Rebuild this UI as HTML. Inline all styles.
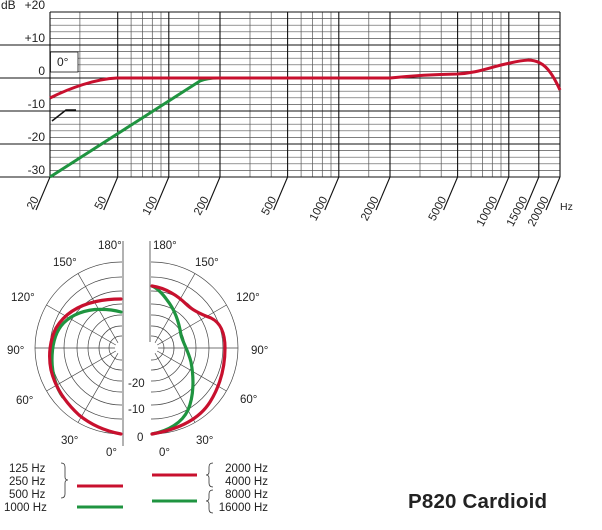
<!DOCTYPE html>
<html><head><meta charset="utf-8"><style>
html,body{margin:0;padding:0;background:#fff}
svg{display:block}
text{font-family:"Liberation Sans",Arial,sans-serif;fill:#222}
</style></head><body>
<svg width="602" height="530" viewBox="0 0 602 530" xmlns="http://www.w3.org/2000/svg">
<defs>
<clipPath id="cl"><rect x="0" y="230" width="122" height="230"/></clipPath>
<clipPath id="cr"><rect x="151" y="230" width="140" height="230"/></clipPath>
</defs>
<g stroke="#555" stroke-width="0.7">
<line x1="50" x2="560" y1="18.6" y2="18.6"/><line x1="50" x2="560" y1="25.2" y2="25.2"/><line x1="50" x2="560" y1="31.8" y2="31.8"/><line x1="50" x2="560" y1="38.4" y2="38.4"/>
<line x1="50" x2="560" y1="51.6" y2="51.6"/><line x1="78" x2="560" y1="58.2" y2="58.2"/><line x1="78" x2="560" y1="64.8" y2="64.8"/><line x1="50" x2="560" y1="71.4" y2="71.4"/>
<line x1="50" x2="560" y1="84.6" y2="84.6"/><line x1="50" x2="560" y1="91.2" y2="91.2"/><line x1="50" x2="560" y1="97.8" y2="97.8"/><line x1="50" x2="560" y1="104.4" y2="104.4"/>
<line x1="50" x2="560" y1="117.6" y2="117.6"/><line x1="50" x2="560" y1="124.2" y2="124.2"/><line x1="50" x2="560" y1="130.8" y2="130.8"/><line x1="50" x2="560" y1="137.4" y2="137.4"/>
<line x1="50" x2="560" y1="150.6" y2="150.6"/><line x1="50" x2="560" y1="157.2" y2="157.2"/><line x1="50" x2="560" y1="163.8" y2="163.8"/><line x1="50" x2="560" y1="170.4" y2="170.4"/>
</g>
<g stroke="#555" stroke-width="0.7">
<line x1="79.9" x2="79.9" y1="12" y2="177"/>
<line x1="131.1" x2="131.1" y1="12" y2="177"/><line x1="142.5" x2="142.5" y1="12" y2="177"/><line x1="152.3" x2="152.3" y1="12" y2="177"/><line x1="161" x2="161" y1="12" y2="177"/>
<line x1="198.8" x2="198.8" y1="12" y2="177"/>
<line x1="250" x2="250" y1="12" y2="177"/><line x1="271.2" x2="271.2" y1="12" y2="177"/>
<line x1="301.1" x2="301.1" y1="12" y2="177"/><line x1="312.5" x2="312.5" y1="12" y2="177"/><line x1="322.3" x2="322.3" y1="12" y2="177"/><line x1="331" x2="331" y1="12" y2="177"/>
<line x1="368.8" x2="368.8" y1="12" y2="177"/>
<line x1="420" x2="420" y1="12" y2="177"/><line x1="441.2" x2="441.2" y1="12" y2="177"/>
<line x1="471.1" x2="471.1" y1="12" y2="177"/><line x1="482.5" x2="482.5" y1="12" y2="177"/><line x1="492.3" x2="492.3" y1="12" y2="177"/><line x1="501" x2="501" y1="12" y2="177"/>
</g>
<g stroke="#111" stroke-width="1.1">
<line x1="50" x2="560" y1="12" y2="12"/>
<line x1="0" x2="560" y1="45" y2="45"/>
<line x1="0" x2="560" y1="78" y2="78"/>
<line x1="0" x2="560" y1="111" y2="111"/>
<line x1="0" x2="560" y1="144" y2="144"/>
<line x1="0" x2="560" y1="177" y2="177"/>
<line x1="50" x2="50" y1="12" y2="177"/>
<line x1="117.7" x2="117.7" y1="12" y2="177"/>
<line x1="168.8" x2="168.8" y1="12" y2="177"/>
<line x1="220" x2="220" y1="12" y2="177"/>
<line x1="287.6" x2="287.6" y1="12" y2="177"/>
<line x1="338.8" x2="338.8" y1="12" y2="177"/>
<line x1="390" x2="390" y1="12" y2="177"/>
<line x1="457.6" x2="457.6" y1="12" y2="177"/>
<line x1="508.8" x2="508.8" y1="12" y2="177"/>
<line x1="538.8" x2="538.8" y1="12" y2="177"/>
<line x1="560" x2="560" y1="12" y2="177"/>
<line x1="50" y1="177" x2="36" y2="210"/>
<line x1="117.7" y1="177" x2="103.7" y2="210"/>
<line x1="168.8" y1="177" x2="154.8" y2="210"/>
<line x1="220" y1="177" x2="206" y2="210"/>
<line x1="287.6" y1="177" x2="273.6" y2="210"/>
<line x1="338.8" y1="177" x2="324.8" y2="210"/>
<line x1="390" y1="177" x2="376" y2="210"/>
<line x1="457.6" y1="177" x2="443.6" y2="210"/>
<line x1="508.8" y1="177" x2="494.8" y2="210"/>
<line x1="538.8" y1="177" x2="524.8" y2="210"/>
<line x1="560" y1="177" x2="546" y2="210"/>
</g>
<rect x="50.5" y="52" width="27.5" height="20" fill="#fff" stroke="#111" stroke-width="0.8"/>
<text x="57" y="66" font-size="12">0°</text>
<g font-size="12" text-anchor="end">
<text x="45" y="9">+20</text><text x="45" y="42">+10</text><text x="45" y="75">0</text>
<text x="45" y="108">-10</text><text x="45" y="141">-20</text><text x="45" y="174">-30</text>
</g>
<text x="1" y="9" font-size="12">dB</text>
<text x="560" y="210" font-size="10.5">Hz</text>
<g font-size="11.5" text-anchor="end">
<text transform="translate(39,199) rotate(-62)">20</text>
<text transform="translate(106.7,199) rotate(-62)">50</text>
<text transform="translate(157.8,199) rotate(-62)">100</text>
<text transform="translate(209,199) rotate(-62)">200</text>
<text transform="translate(276.6,199) rotate(-62)">500</text>
<text transform="translate(327.8,199) rotate(-62)">1000</text>
<text transform="translate(379,199) rotate(-62)">2000</text>
<text transform="translate(446.6,199) rotate(-62)">5000</text>
<text transform="translate(497.8,199) rotate(-62)">10000</text>
<text transform="translate(527.8,199) rotate(-62)">15000</text>
<text transform="translate(549,199) rotate(-62)">20000</text>
</g>
<polyline points="52,121 66,110 76,110" fill="none" stroke="#111" stroke-width="1.5"/>
<path d="M50,177 L200,81 Q207,78 218,78" fill="none" stroke="#1f9440" stroke-width="3"/>
<path d="M50,98 C70,88 95,79 117,78 L390,78 C410,76 430,74.5 457,74 C478,73 490,67 510,63 C525,59.5 532,59 540,63 C548,67 554,77 560,90" fill="none" stroke="#c8102e" stroke-width="3"/>

<g fill="none" stroke="#444" stroke-width="0.7">
<g clip-path="url(#cl)">
<circle cx="121" cy="348" r="86"/><circle cx="121" cy="348" r="71"/><circle cx="121" cy="348" r="57"/><circle cx="121" cy="348" r="44"/><circle cx="121" cy="348" r="33"/><circle cx="121" cy="348" r="22"/><circle cx="121" cy="348" r="12"/>
</g>
<g clip-path="url(#cr)">
<circle cx="152" cy="348" r="86"/><circle cx="152" cy="348" r="71"/><circle cx="152" cy="348" r="57"/><circle cx="152" cy="348" r="44"/><circle cx="152" cy="348" r="33"/><circle cx="152" cy="348" r="22"/><circle cx="152" cy="348" r="12"/>
</g>
<line x1="121" y1="348" x2="78" y2="422.5"/><line x1="121" y1="348" x2="46.5" y2="391"/><line x1="121" y1="348" x2="35" y2="348"/><line x1="121" y1="348" x2="46.5" y2="305"/><line x1="121" y1="348" x2="78" y2="273.5"/>
<line x1="152" y1="348" x2="195" y2="422.5"/><line x1="152" y1="348" x2="226.5" y2="391"/><line x1="152" y1="348" x2="238" y2="348"/><line x1="152" y1="348" x2="226.5" y2="305"/><line x1="152" y1="348" x2="195" y2="273.5"/>
</g>
<rect x="123" y="240" width="27" height="210" fill="#fff"/>
<circle cx="121" cy="348" r="6" fill="#fff"/><circle cx="152" cy="348" r="6" fill="#fff"/>
<line x1="123" y1="241" x2="123" y2="446" stroke="#999" stroke-width="1.5"/>
<line x1="150" y1="241" x2="150" y2="342" stroke="#999" stroke-width="1.5"/>
<g fill="none" stroke-width="3.2" stroke-linejoin="round" stroke-linecap="round">
<path stroke="#1f9440" d="M62.8,396.9 C57,389 52,375 52,360 C52,345 55,334 61,326 C68,317 80,311 95,309.5 C105,309 114,310 121,312"/>
<path stroke="#c8102e" d="M121,434 C105,431 90,424 79,415 C65,402 55,387 51,370 C48,355 50,340 56,328 C65,313 80,305 96,301.5 C105,299.5 114,299 121,299"/>
<path stroke="#1f9440" d="M152,434 C168,431 182,423 188,410 C194,396 194,378 191,362 C188,350 183,343 181,335 C179,322 175,310 167,300 C162,293 157,288 152,286"/>
<path stroke="#c8102e" d="M152,434 C175,430 198,421 210,402 C220,386 225,367 225,348 C225,333 221,323 211,318 C200,314 192,310 186,304 C178,296 166,288 152,286"/>
</g>
<g font-size="11.5">
<text x="98" y="249">180°</text><text x="153" y="249">180°</text>
<text x="53" y="266">150°</text><text x="195" y="266">150°</text>
<text x="11" y="301">120°</text><text x="236" y="301">120°</text>
<text x="7" y="354">90°</text><text x="251" y="354">90°</text>
<text x="16" y="404">60°</text><text x="240" y="403">60°</text>
<text x="61" y="444">30°</text><text x="196" y="444">30°</text>
<text x="106" y="456">0°</text><text x="159" y="456">0°</text>
<text x="128" y="387">-20</text><text x="128" y="413">-10</text><text x="137" y="441">0</text>
</g>
<g font-size="11.5">
<text x="9" y="472">125 Hz</text><text x="9" y="485">250 Hz</text><text x="9" y="498">500 Hz</text><text x="4" y="511">1000 Hz</text>
<g text-anchor="end"><text x="268" y="472">2000 Hz</text><text x="268" y="485">4000 Hz</text><text x="268" y="498">8000 Hz</text><text x="268" y="511">16000 Hz</text></g>
</g>
<g fill="none" stroke="#333" stroke-width="0.8">
<path d="M61,463 Q65,463 65,467 L65,477 Q65,480 68,480 Q65,480 65,483 L65,494 Q65,498 61,498"/>
<path d="M213,463 Q209,463 209,467 L209,472 Q209,475 206,475 Q209,475 209,478 L209,483 Q209,487 213,487"/>
<path d="M213,490 Q209,490 209,494 L209,498 Q209,501 206,501 Q209,501 209,504 L209,509 Q209,513 213,513"/>
</g>
<line x1="77" y1="486" x2="123" y2="486" stroke="#c8102e" stroke-width="3"/>
<line x1="77" y1="507" x2="123" y2="507" stroke="#1f9440" stroke-width="3"/>
<line x1="152" y1="475" x2="197" y2="475" stroke="#c8102e" stroke-width="3"/>
<line x1="152" y1="501" x2="197" y2="501" stroke="#1f9440" stroke-width="3"/>
<text x="408" y="508" font-size="20.5" font-weight="bold" fill="#111" textLength="139">P820 Cardioid</text>
</svg>
</body></html>
